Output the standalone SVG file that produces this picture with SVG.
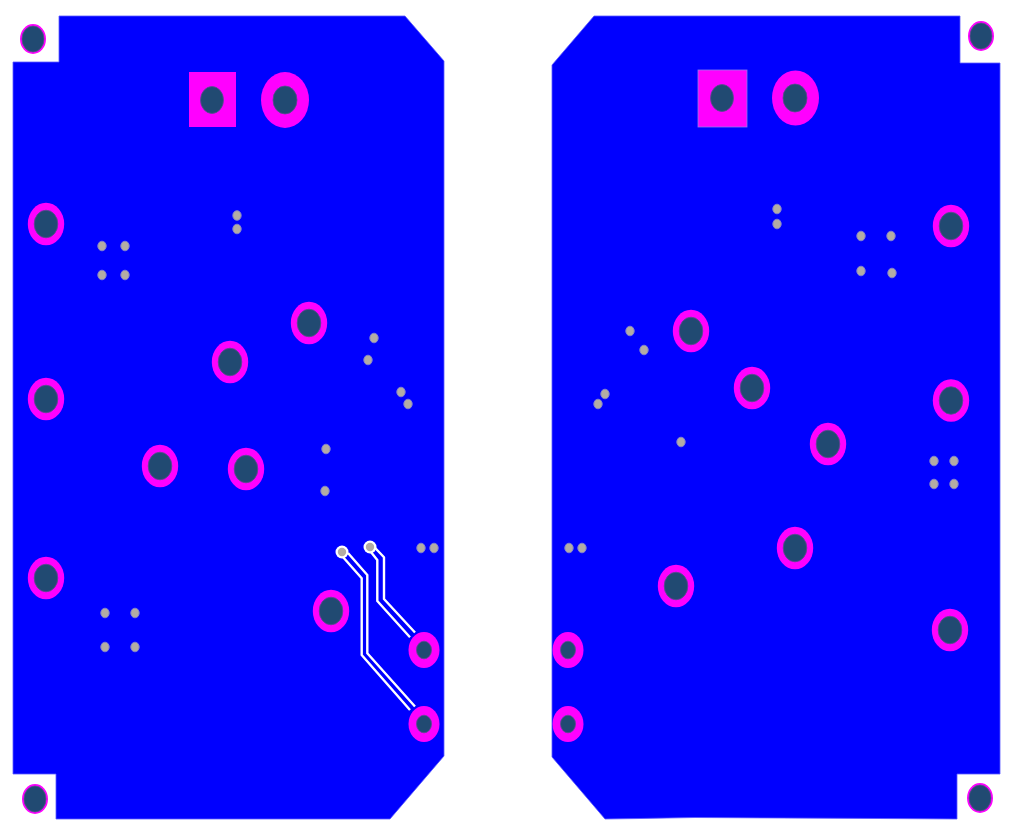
<svg xmlns="http://www.w3.org/2000/svg" width="1011" height="833" viewBox="0 0 1011 833">
<style>
.board{fill:#0000ff;stroke:#5a5aff;stroke-width:.8}
.ring{fill:#ff00ff}
.hole{fill:#214a72;stroke:#5a4a90;stroke-width:.8}
.via{fill:#b3aca4;stroke:#8080d0;stroke-width:1}
.trace{fill:none;stroke:#fff;stroke-width:2.400;stroke-linejoin:round}
</style>
<defs>
<g id="pad"><ellipse class="ring" rx="18.200" ry="21.300"/><ellipse class="hole" rx="11.800" ry="13.800"/></g>
<g id="smallpad"><ellipse class="ring" rx="15.500" ry="18"/><ellipse class="hole" rx="7.500" ry="8.800"/></g>
<g id="mount"><ellipse class="ring" rx="13" ry="15"/><ellipse class="hole" rx="11" ry="13"/></g>
<ellipse id="via" class="via" rx="4.200" ry="4.800"/>
</defs>
<rect width="1011" height="833" fill="#fff"/>
<g id="left-board">
<polygon class="board" points="59,16 405,16 444,61 444,756 390,819 56,819 56,774 13,774 13,62 59,62"/>
<rect class="ring" x="189" y="72" width="47" height="55"/>
<ellipse class="hole" cx="212" cy="100" rx="11.500" ry="13.500"/>
<g><ellipse class="ring" cx="285" cy="100" rx="24" ry="28"/><ellipse class="hole" cx="285" cy="100" rx="12" ry="14"/></g>
<use href="#mount" x="33" y="39"/><use href="#mount" x="35" y="799"/>
<use href="#pad" x="46" y="224"/><use href="#pad" x="46" y="399"/><use href="#pad" x="46" y="578"/>
<use href="#pad" x="309" y="323"/><use href="#pad" x="230" y="362"/><use href="#pad" x="160" y="466"/><use href="#pad" x="246" y="469"/><use href="#pad" x="331" y="611"/>
<use href="#via" x="102" y="246"/><use href="#via" x="125" y="246"/><use href="#via" x="102" y="275"/><use href="#via" x="125" y="275"/>
<use href="#via" x="237" y="215.500"/><use href="#via" x="237" y="229"/>
<use href="#via" x="374" y="338"/><use href="#via" x="368" y="360"/><use href="#via" x="401" y="392"/><use href="#via" x="408" y="404"/>
<use href="#via" x="326" y="449"/><use href="#via" x="325" y="491"/>
<use href="#via" x="421" y="548"/><use href="#via" x="434" y="548"/>
<use href="#via" x="105" y="613"/><use href="#via" x="135" y="613"/><use href="#via" x="105" y="647"/><use href="#via" x="135" y="647"/>
</g>
<g id="connectors">
<path class="trace" d="M342.700 556.700L361.700 578.300V655L410 710"/>
<path class="trace" d="M348 553L367.300 575V653.300L415 706.500"/>
<path class="trace" d="M370.700 551.700L377.300 560V601L410 637.300"/>
<path class="trace" d="M374 546.700L384 557.300V599L415 632.500"/>
</g>
<g id="left-trace-ends">
<use href="#smallpad" x="424" y="650"/><use href="#smallpad" x="424" y="724"/>
<circle cx="342" cy="552" r="6.500" fill="#fff"/><circle cx="342" cy="552" r="4.200" fill="#b3aca4"/>
<circle cx="370" cy="547" r="6.500" fill="#fff"/><circle cx="370" cy="547" r="4.200" fill="#b3aca4"/>
</g>
<g id="right-board">
<polygon class="board" points="594,16 960,16 960,63 1000,63 1000,774 957,774 957,819 880,818.500 780,818 695,817.500 640,818.500 605,819 552,757 552,65"/>
<rect class="ring" x="698" y="70" width="49" height="57" style="stroke:#8a7af0;stroke-width:.8"/>
<ellipse class="hole" cx="722" cy="98" rx="11.500" ry="13.500"/>
<g><ellipse class="ring" cx="795.500" cy="98" rx="23.500" ry="27.500"/><ellipse class="hole" cx="795" cy="98" rx="12" ry="14"/></g>
<use href="#mount" x="981" y="36"/><use href="#mount" x="980" y="798"/>
<use href="#pad" x="951" y="226"/><use href="#pad" x="951" y="400.500"/><use href="#pad" x="950" y="630"/>
<use href="#pad" x="691" y="331"/><use href="#pad" x="752" y="388"/><use href="#pad" x="828" y="444"/><use href="#pad" x="795" y="548"/><use href="#pad" x="676" y="586"/>
<use href="#smallpad" x="568" y="650"/><use href="#smallpad" x="568" y="724"/>
<use href="#via" x="777" y="209"/><use href="#via" x="777" y="224"/>
<use href="#via" x="861" y="236"/><use href="#via" x="891" y="236"/><use href="#via" x="861" y="271"/><use href="#via" x="892" y="273"/>
<use href="#via" x="630" y="331"/><use href="#via" x="644" y="350"/><use href="#via" x="605" y="394"/><use href="#via" x="598" y="404"/>
<use href="#via" x="681" y="442"/>
<use href="#via" x="934" y="461"/><use href="#via" x="954" y="461"/><use href="#via" x="934" y="484"/><use href="#via" x="954" y="484"/>
<use href="#via" x="569" y="548"/><use href="#via" x="582" y="548"/>
</g>
</svg>
